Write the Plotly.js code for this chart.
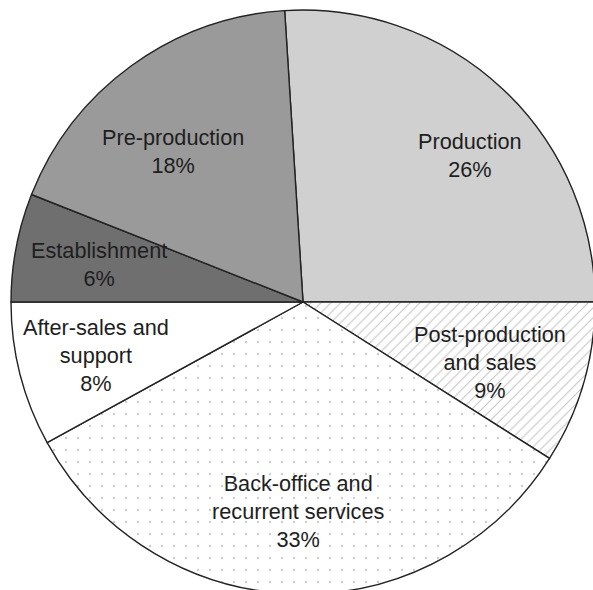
<!DOCTYPE html>
<html>
<head>
<meta charset="utf-8">
<script src="https://cdn.plot.ly/plotly-3.0.1.min.js"></script>
<style>
html, body { margin: 0; padding: 0; overflow: hidden; background: #fff; }
#chart { width: 606px; height: 604px; }
</style>
</head>
<body>
<div id="chart"></div>
<script>
const categories = ["Production", "Post-production<br>and sales", "Back-office and<br>recurrent services", "After-sales and<br>support", "Establishment", "Pre-production"];
const shares = [26, 9, 33, 8, 6, 18];

// styles
const sliceColors = ["#d0d0d0", "#ffffff", "#ffffff", "#ffffff", "#6f6f6f", "#9a9a9a"];
const slicePatterns = ["", "/", ".", "", "", ""];
const startAngle = -3.6;               // degrees clockwise from 12 o'clock
const labelRadius = [0.76, 0.672, 0.719, 0.733, 0.709, 0.682]; // fraction of pie radius
const labelNudge = [5.6, 1.9, -0.7, -0.2, -0.4, -4.8];          // degrees

// label anchors derived from slice bisectors
const total = shares.reduce((a, b) => a + b, 0);
let acc = 0;
const annotations = shares.map((v, i) => {
  const mid = startAngle + (acc + v / 2) / total * 360 + labelNudge[i];
  acc += v;
  const t = mid * Math.PI / 180;
  return {
    xref: "paper", yref: "paper",
    x: 0.5 + 0.5 * labelRadius[i] * Math.sin(t),
    y: 0.5 + 0.5 * labelRadius[i] * Math.cos(t),
    xanchor: "center", yanchor: "middle", align: "center",
    showarrow: false,
    text: categories[i] + "<br>" + v + "%",
    font: { family: "Liberation Sans, Arial, sans-serif", size: 21.7, color: "#1e1e1e" }
  };
});

Plotly.newPlot("chart", [{
  type: "pie",
  labels: categories,
  values: shares,
  sort: false,
  direction: "clockwise",
  rotation: startAngle,
  textinfo: "none",
  hoverinfo: "none",
  marker: {
    colors: sliceColors,
    line: { color: "#222", width: 1.4 },
    pattern: { shape: slicePatterns, fgcolor: ["#fff", "#c4c4c4", "#cccccc", "#fff", "#fff", "#fff"], bgcolor: "#ffffff", size: [0, 7, 12, 0, 0, 0], solidity: [0, 0.15, 0.03, 0, 0, 0] }
  }
}], {
  width: 606, height: 604,
  margin: { l: 11, r: 11, t: 10, b: 10, pad: 0 },
  showlegend: false,
  paper_bgcolor: "#fff",
  annotations: annotations
}, { staticPlot: true, displayModeBar: false });
</script>
</body>
</html>
